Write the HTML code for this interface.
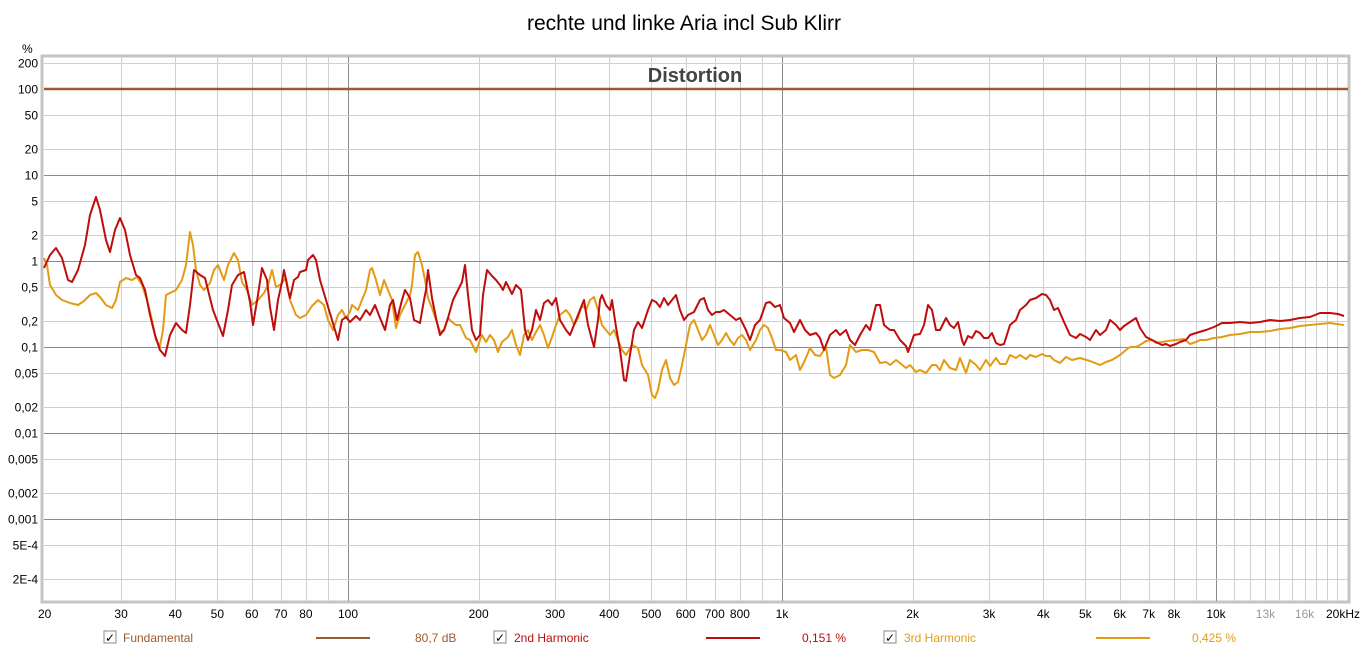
<!DOCTYPE html>
<html><head><meta charset="utf-8"><style>
body{margin:0;background:#fff;width:1369px;height:658px;overflow:hidden;font-family:"Liberation Sans",sans-serif;}
svg{position:absolute;left:0;top:0}
</style></head><body>
<svg id="s" width="1369" height="658" xmlns="http://www.w3.org/2000/svg" font-family="Liberation Sans, sans-serif">
<text x="684" y="30" font-size="21" text-anchor="middle" fill="#000">rechte und linke Aria incl Sub Klirr</text>
<rect x="42" y="56" width="1307" height="546" fill="none" stroke="#c4c4c4" stroke-width="3"/>
<g id="grid"></g>
<text x="695" y="82" font-size="20" font-weight="bold" text-anchor="middle" fill="#444">Distortion</text>
<line x1="44" y1="89" x2="1348" y2="89" stroke="#9c5a2e" stroke-width="2.5"/>
<polyline fill="none" stroke="#e39b14" stroke-width="2" stroke-linejoin="round" points="44,258 47,265 50,285 56,295 62,300 70,303 78,305 84,301 90,295 96,293 100,297 106,305 112,308 116,300 120,282 126,278 132,280 137,277 142,285 147,300 152,320 156,340 160,346 163,330 166,295 172,292 176,290 182,280 186,265 190,232 193,245 196,270 200,285 204,290 210,283 214,270 218,265 224,280 228,265 234,253 238,260 242,282 247,290 252,305 258,300 264,293 268,285 272,270 276,287 280,285 286,278 290,300 296,315 300,318 306,315 312,306 318,300 324,305 328,320 333,330 338,315 342,310 346,318 350,312 352,305 358,310 362,300 366,290 370,270 372,268 376,280 380,295 384,280 388,290 392,300 396,328 400,315 405,305 410,295 412,285 415,255 418,252 422,265 426,285 428,298 432,308 436,320 440,332 444,330 448,318 452,322 456,325 460,325 466,338 470,340 476,352 480,340 482,335 486,342 490,335 494,340 498,352 502,342 508,337 512,330 516,345 520,355 524,335 528,330 532,340 536,332 540,325 544,335 548,348 552,337 556,325 560,315 566,310 570,315 574,325 578,318 582,305 586,310 590,300 594,297 598,310 602,325 606,330 610,335 614,330 618,340 622,350 626,355 632,345 638,348 642,365 648,375 652,395 655,398 658,390 662,370 666,360 670,378 674,385 678,382 682,365 686,345 690,325 694,320 698,330 702,340 706,335 710,325 714,335 718,345 722,340 726,333 730,340 734,345 738,338 742,335 746,340 750,350 756,340 760,330 764,325 768,328 772,338 776,350 780,350 786,352 790,360 796,355 800,370 805,360 810,348 815,355 820,356 826,347 830,375 834,378 840,375 846,365 850,345 856,352 862,350 868,350 874,352 880,363 886,362 890,365 896,360 900,363 906,368 910,365 916,372 920,370 926,373 932,365 936,365 940,370 944,360 950,368 956,370 960,358 966,373 970,360 976,365 980,370 986,360 990,366 996,358 1000,364 1006,364 1010,355 1016,358 1020,355 1026,359 1030,355 1036,357 1042,354 1046,356 1050,356 1054,360 1060,363 1066,357 1072,360 1080,358 1090,361 1100,365 1106,362 1112,360 1120,355 1126,350 1130,347 1136,347 1140,345 1146,341 1152,340 1156,343 1162,342 1168,341 1176,340 1184,339 1190,344 1196,342 1200,340 1206,340 1214,338 1222,337 1230,335 1240,334 1250,332 1260,332 1270,331 1280,329 1290,328 1300,326 1310,325 1320,324 1330,323 1336,324 1344,325"/>
<polyline fill="none" stroke="#bf0d0d" stroke-width="2" stroke-linejoin="round" points="44,268 50,255 56,248 62,258 68,280 72,282 78,270 85,245 90,215 96,197 100,210 106,240 110,252 115,230 120,218 125,230 130,255 136,275 140,278 145,290 150,315 155,335 160,350 165,356 170,335 176,323 182,330 186,333 190,305 194,270 200,275 205,278 208,290 213,310 223,336 228,310 232,285 238,275 244,272 250,302 253,325 258,295 262,268 267,280 270,307 274,330 278,300 282,282 284,270 288,290 290,298 294,280 298,277 300,272 306,270 308,260 313,255 316,260 320,280 326,300 332,320 338,340 342,320 346,317 350,322 356,316 360,320 366,310 370,315 375,305 380,318 385,330 390,305 393,300 397,320 402,300 405,290 410,298 414,320 420,323 424,300 426,290 428,270 432,298 436,318 440,335 444,330 448,318 453,300 458,290 462,282 465,265 468,295 472,330 476,340 480,335 483,295 487,270 492,276 496,280 500,285 503,290 506,282 512,294 516,285 521,290 525,330 528,340 532,330 536,310 540,320 544,303 548,300 552,305 556,298 560,320 566,330 570,335 576,320 580,310 584,300 588,325 594,347 598,320 600,300 602,295 606,305 610,310 612,300 616,327 620,350 624,380 626,381 630,355 634,330 638,322 642,328 648,310 652,300 656,302 660,307 664,298 668,305 672,300 676,295 680,310 684,320 688,315 694,312 700,300 704,298 708,310 712,315 716,312 720,312 724,310 730,315 736,320 740,318 746,330 750,340 755,325 760,320 766,303 770,302 775,307 780,305 784,318 790,323 794,332 800,320 805,330 810,335 816,333 820,338 824,350 830,335 836,330 840,335 846,330 850,340 855,345 860,335 866,325 870,330 876,305 880,305 884,325 890,330 894,330 900,340 906,346 908,352 914,335 920,334 924,325 928,305 932,310 936,330 940,330 946,318 950,325 954,328 958,322 962,340 964,345 968,336 972,338 976,331 980,333 984,338 988,338 992,333 996,343 1000,345 1004,344 1010,325 1016,320 1020,310 1026,305 1030,300 1036,298 1042,294 1046,295 1050,300 1054,310 1058,308 1064,322 1070,335 1076,338 1080,334 1086,337 1090,340 1096,330 1100,335 1106,330 1110,320 1116,325 1120,330 1124,326 1130,322 1136,318 1140,328 1146,337 1152,340 1156,342 1162,345 1166,344 1170,346 1176,344 1180,342 1186,340 1190,335 1196,333 1206,330 1214,327 1222,323 1230,323 1240,322 1250,323 1260,322 1270,320 1280,321 1290,320 1300,318 1310,317 1320,313 1330,313 1338,314 1344,316"/>
<g id="lab" font-size="12" fill="#000"></g>
<g font-size="12">
<rect x="104" y="631" width="12" height="12" fill="#fff" stroke="#888"/><text x="105" y="642" font-size="12">✓</text>
<text x="123" y="642" fill="#9c5a2e">Fundamental</text>
<line x1="316" y1="638" x2="370" y2="638" stroke="#9c5a2e" stroke-width="2"/>
<text x="415" y="642" fill="#9c5a2e">80,7 dB</text>
<rect x="494" y="631" width="12" height="12" fill="#fff" stroke="#888"/><text x="495" y="642">✓</text>
<text x="514" y="642" fill="#bf0d0d">2nd Harmonic</text>
<line x1="706" y1="638" x2="760" y2="638" stroke="#bf0d0d" stroke-width="2"/>
<text x="802" y="642" fill="#bf0d0d">0,151 %</text>
<rect x="884" y="631" width="12" height="12" fill="#fff" stroke="#888"/><text x="885" y="642">✓</text>
<text x="904" y="642" fill="#e39b14">3rd Harmonic</text>
<line x1="1096" y1="638" x2="1150" y2="638" stroke="#e39b14" stroke-width="2"/>
<text x="1192" y="642" fill="#e39b14">0,425 %</text>
</g>
</svg>
<script>
var NS="http://www.w3.org/2000/svg",g=document.getElementById("grid"),lab=document.getElementById("lab");
function X(f){return 348+434*(Math.log10(f)-2);}
function Y(v){return 261-86*Math.log10(v);}
function ln(x1,y1,x2,y2,c){var l=document.createElementNS(NS,"line");l.setAttribute("x1",x1);l.setAttribute("y1",y1);l.setAttribute("x2",x2);l.setAttribute("y2",y2);l.setAttribute("stroke",c);l.setAttribute("stroke-width",1);g.appendChild(l);}
function tx(x,y,s,a,c){var t=document.createElementNS(NS,"text");t.setAttribute("x",x);t.setAttribute("y",y);t.setAttribute("text-anchor",a);if(c)t.setAttribute("fill",c);t.textContent=s;lab.appendChild(t);}
var fs=[];for(var d=10;d<=10000;d*=10)for(var m=1;m<10;m++){var f=m*d;if(f>20&&f<20000)fs.push(f);}
for(var i=11;i<20;i++)fs.push(i*1000);
fs.forEach(function(f){var x=Math.round(X(f))+0.5;ln(x,57,x,601,(f==100||f==1000||f==10000)?"#8a8a8a":"#cfcfcf");});
var ys=[[200,"200"],[100,"100"],[50,"50"],[20,"20"],[10,"10"],[5,"5"],[2,"2"],[1,"1"],[0.5,"0,5"],[0.2,"0,2"],[0.1,"0,1"],[0.05,"0,05"],[0.02,"0,02"],[0.01,"0,01"],[0.005,"0,005"],[0.002,"0,002"],[0.001,"0,001"],[0.0005,"5E-4"],[0.0002,"2E-4"]];
ys.forEach(function(p){var y=Math.round(Y(p[0]))+0.5;var dec=Math.abs(Math.log10(p[0])-Math.round(Math.log10(p[0])))<1e-6;ln(44,y,1348,y,dec?"#8a8a8a":"#cfcfcf");tx(38,y+4,p[1],"end");});
tx(22,53,"%","start");
var xl=[[20,"20"],[30,"30"],[40,"40"],[50,"50"],[60,"60"],[70,"70"],[80,"80"],[100,"100"],[200,"200"],[300,"300"],[400,"400"],[500,"500"],[600,"600"],[700,"700"],[800,"800"],[1000,"1k"],[2000,"2k"],[3000,"3k"],[4000,"4k"],[5000,"5k"],[6000,"6k"],[7000,"7k"],[8000,"8k"],[10000,"10k"],[13000,"13k","#999"],[16000,"16k","#999"]];
xl.forEach(function(p){tx(X(p[0]),618,p[1],"middle",p[2]);});
tx(1343,618,"20kHz","middle");
</script>
</body></html>
